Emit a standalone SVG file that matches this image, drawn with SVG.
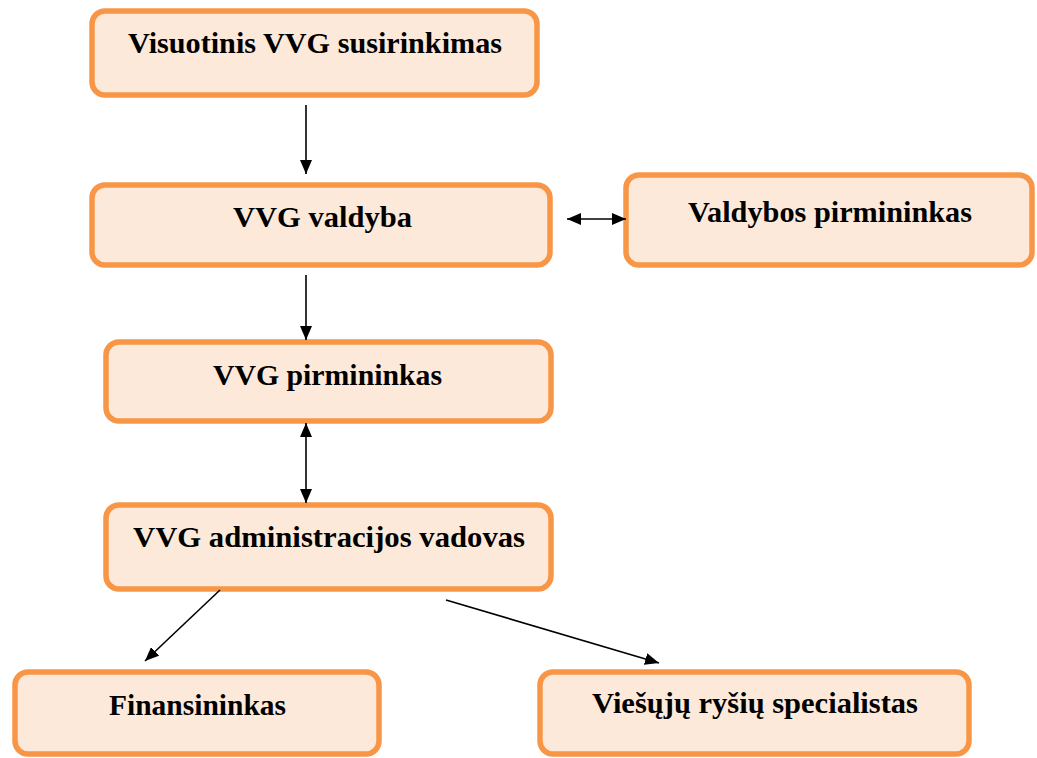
<svg xmlns="http://www.w3.org/2000/svg" width="1037" height="758" viewBox="0 0 1037 758">
  <style>
    .box { fill: #FDE9D9; stroke: #F79646; stroke-width: 5.5; }
    .lbl { font-family: "Liberation Serif", "Times New Roman", serif; font-weight: bold; font-size: 30px; fill: #000; text-anchor: middle; }
    .conn { stroke: #000; stroke-width: 1.6; fill: none; }
  </style>
  <defs>
    <marker id="ah" viewBox="0 0 14 12" refX="14" refY="6" markerWidth="14" markerHeight="12" markerUnits="userSpaceOnUse" orient="auto-start-reverse">
      <path d="M0,0 L14,6 L0,12 z" fill="#000"/>
    </marker>
  </defs>
  <rect width="1037" height="758" fill="#fff"/>
  <g id="n1">
    <rect class="box" x="92" y="11" width="445" height="84" rx="13"/>
    <text class="lbl" x="315" y="53" textLength="374" lengthAdjust="spacingAndGlyphs">Visuotinis VVG susirinkimas</text>
  </g>
  <g id="n2">
    <rect class="box" x="92" y="185" width="458" height="80" rx="13"/>
    <text class="lbl" x="322.5" y="227" textLength="179" lengthAdjust="spacingAndGlyphs">VVG valdyba</text>
  </g>
  <g id="n3">
    <rect class="box" x="626" y="175" width="406" height="90" rx="13"/>
    <text class="lbl" x="830" y="222" textLength="284" lengthAdjust="spacingAndGlyphs">Valdybos pirmininkas</text>
  </g>
  <g id="n4">
    <rect class="box" x="106" y="342" width="445" height="79" rx="13"/>
    <text class="lbl" x="327.5" y="385" textLength="229" lengthAdjust="spacingAndGlyphs">VVG pirmininkas</text>
  </g>
  <g id="n5">
    <rect class="box" x="106" y="505" width="445" height="84" rx="13"/>
    <text class="lbl" x="329" y="547" textLength="392" lengthAdjust="spacingAndGlyphs">VVG administracijos vadovas</text>
  </g>
  <g id="n6">
    <rect class="box" x="15" y="672" width="364" height="82" rx="13"/>
    <text class="lbl" x="197.5" y="715" textLength="177" lengthAdjust="spacingAndGlyphs">Finansininkas</text>
  </g>
  <g id="n7">
    <rect class="box" x="540" y="672" width="429" height="82" rx="13"/>
    <text class="lbl" x="755" y="713" textLength="326" lengthAdjust="spacingAndGlyphs">Viešųjų ryšių specialistas</text>
  </g>
  <g id="connectors">
    <line class="conn" x1="306" y1="105" x2="306" y2="174" marker-end="url(#ah)"/>
    <line class="conn" x1="306" y1="275" x2="306" y2="340" marker-end="url(#ah)"/>
    <line class="conn" x1="306" y1="423" x2="306" y2="503" marker-start="url(#ah)" marker-end="url(#ah)"/>
    <line class="conn" x1="567" y1="219" x2="626" y2="219" marker-start="url(#ah)" marker-end="url(#ah)"/>
    <line class="conn" x1="220" y1="590" x2="145" y2="661" marker-end="url(#ah)"/>
    <line class="conn" x1="446" y1="600" x2="659" y2="663" marker-end="url(#ah)"/>
  </g>
</svg>
